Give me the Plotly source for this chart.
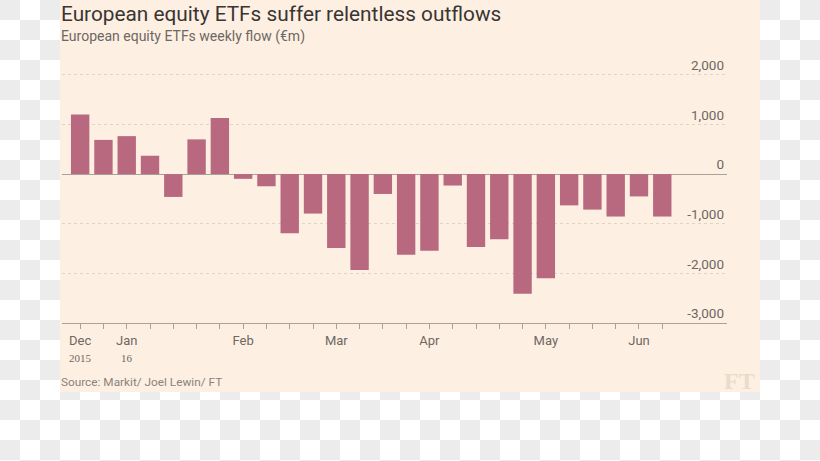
import plotly.graph_objects as go

# ---- data ----
weeks = ["2015-12-18", "2015-12-25", "2016-01-01", "2016-01-08", "2016-01-15",
         "2016-01-22", "2016-01-29", "2016-02-05", "2016-02-12", "2016-02-19",
         "2016-02-26", "2016-03-04", "2016-03-11", "2016-03-18", "2016-03-25",
         "2016-04-01", "2016-04-08", "2016-04-15", "2016-04-22", "2016-04-29",
         "2016-05-06", "2016-05-13", "2016-05-20", "2016-05-27", "2016-06-03",
         "2016-06-10"]
flows = [1200, 690, 765, 370, -460, 700, 1130, -95, -245, -1190,
         -795, -1490, -1930, -400, -1625, -1545, -230, -1470, -1310, -2410,
         -2100, -630, -715, -855, -450, -855]
month_labels = {"2015-12-18": "Dec", "2016-01-01": "Jan", "2016-02-05": "Feb",
                "2016-03-04": "Mar", "2016-04-01": "Apr", "2016-05-06": "May",
                "2016-06-03": "Jun"}
year_labels = {"2015-12-18": "2015", "2016-01-01": "16"}
y_tickvals = [-3000, -2000, -1000, 0, 1000, 2000]
y_ticktext = ["-3,000", "-2,000", "-1,000", "0", "1,000", "2,000"]

# ---- geometry ----
W, H = 820, 461
L, R, T, B = 62, 93, 55, 138
PW, PH = W - L - R, H - T - B


def px(x):
    return (x - L) / PW


def py(y):
    return 1 - (y - T) / PH


BG = "#fdf0e2"
fig = go.Figure()
fig.add_trace(go.Bar(x=weeks, y=flows, marker=dict(color="#b8697f", line=dict(width=0)),
                     hoverinfo="x+y"))

shapes = []
# checkerboard (transparent-background look)
path = ""
for r in range(0, 24):
    for c in range(0, 41):
        if (r + c) % 2 == 0:
            x0, y0 = c * 20, r * 20
            path += f"M{px(x0)},{py(y0)} L{px(x0+20)},{py(y0)} L{px(x0+20)},{py(y0+20)} L{px(x0)},{py(y0+20)} Z "
shapes.append(dict(type="path", path=path, xref="paper", yref="paper",
                   fillcolor="#ececec", line=dict(width=0), layer="below"))
shapes.append(dict(type="rect", xref="paper", yref="paper", x0=px(60), x1=px(760),
                   y0=py(0), y1=py(392), fillcolor=BG, line=dict(width=0), layer="below"))

annotations = [
    dict(text="European equity ETFs suffer relentless outflows", x=px(59), y=py(14),
         xref="paper", yref="paper", xanchor="left", yanchor="middle", showarrow=False,
         font=dict(family="Roboto", size=20.8, color="#3a3532")),
    dict(text="European equity ETFs weekly flow (€m)", x=px(59), y=py(36),
         xref="paper", yref="paper", xanchor="left", yanchor="middle", showarrow=False,
         font=dict(family="Roboto", size=14, color="#6e6762")),
    dict(text="Source: Markit/ Joel Lewin/ FT", x=px(59), y=py(382),
         xref="paper", yref="paper", xanchor="left", yanchor="middle", showarrow=False,
         font=dict(family="Roboto", size=11.8, color="#8a827c")),
    dict(text="<b>FT</b>", x=px(757), y=py(381),
         xref="paper", yref="paper", xanchor="right", yanchor="middle", showarrow=False,
         font=dict(family="Liberation Serif", size=24, color="#eadcca")),
]
for wk, yl in year_labels.items():
    annotations.append(dict(text=yl, x=wk, y=py(358), xref="x", yref="paper",
                            xanchor="center", yanchor="middle", showarrow=False,
                            font=dict(family="Liberation Serif", size=11, color="#6e6762")))

fig.update_layout(
    width=W, height=H,
    margin=dict(l=L, r=R, t=T, b=B),
    paper_bgcolor="white",
    plot_bgcolor="rgba(0,0,0,0)",
    bargap=0.21,
    showlegend=False,
    shapes=shapes,
    annotations=annotations,
    font=dict(family="Roboto", color="#6e6762"),
)
fig.update_xaxes(
    type="category",
    range=[-0.78, 27.78],
    tickvals=weeks,
    ticktext=[month_labels.get(w, "") for w in weeks],
    ticks="outside", ticklen=5, tickcolor="#a9a29b", tickwidth=1,
    showline=True, linecolor="#a9a29b", linewidth=1,
    showgrid=False, zeroline=False,
    tickfont=dict(family="Roboto", size=13, color="#6e6762"),
)
fig.update_yaxes(
    range=[-3000, 2400],
    side="right",
    tickvals=y_tickvals, ticktext=y_ticktext,
    ticklabelposition="inside top",
    ticks="",
    showgrid=True, gridcolor="#e2d3c4", griddash="dot", gridwidth=1,
    zeroline=True, zerolinecolor="#a9a29b", zerolinewidth=1,
    showline=False,
    tickfont=dict(family="Roboto", size=13.5, color="#6e6762"),
)

fig.write_html("out.html", config={"displayModeBar": False},
               post_script="document.body.style.margin='0';document.body.style.padding='0';")
